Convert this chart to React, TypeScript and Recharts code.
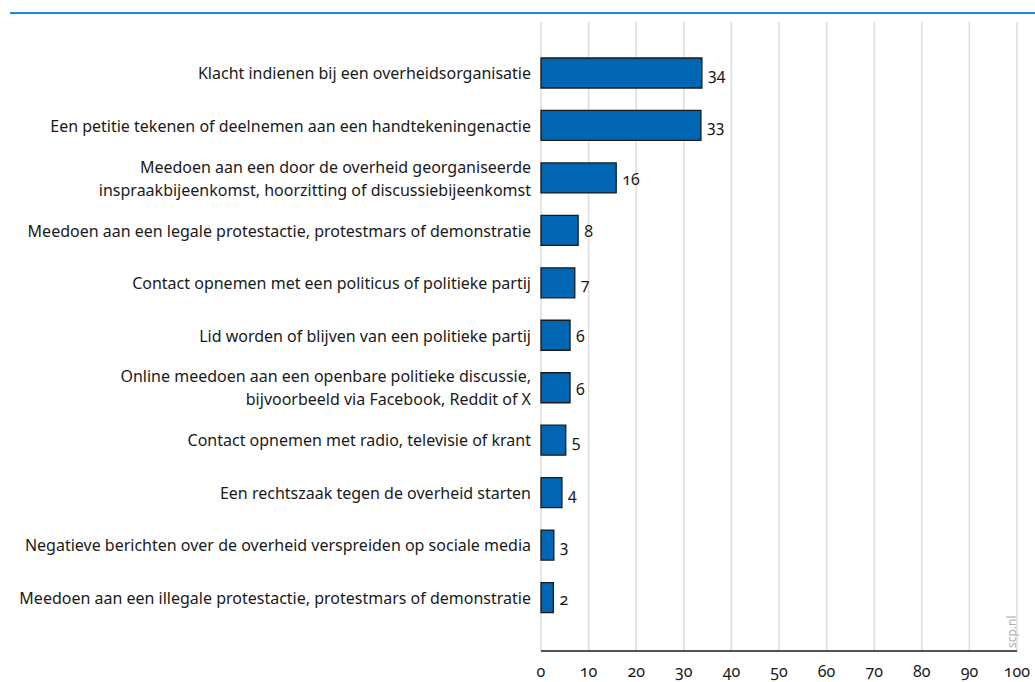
import React from 'react';
import { BarChart, Bar, XAxis, YAxis, CartesianGrid, LabelList } from 'recharts';

const categories: string[] = [
  'Klacht indienen bij een overheidsorganisatie',
  'Een petitie tekenen of deelnemen aan een handtekeningenactie',
  'Meedoen aan een door de overheid georganiseerde\ninspraakbijeenkomst, hoorzitting of discussiebijeenkomst',
  'Meedoen aan een legale protestactie, protestmars of demonstratie',
  'Contact opnemen met een politicus of politieke partij',
  'Lid worden of blijven van een politieke partij',
  'Online meedoen aan een openbare politieke discussie,\nbijvoorbeeld via Facebook, Reddit of X',
  'Contact opnemen met radio, televisie of krant',
  'Een rechtszaak tegen de overheid starten',
  'Negatieve berichten over de overheid verspreiden op sociale media',
  'Meedoen aan een illegale protestactie, protestmars of demonstratie',
];

const values: number[] = [33.8, 33.6, 15.8, 7.8, 7.1, 6.1, 6.1, 5.2, 4.4, 2.7, 2.6];
const valueLabels: string[] = ['34', '33', '16', '8', '7', '6', '6', '5', '4', '3', '2'];
const xTicks: number[] = [0, 10, 20, 30, 40, 50, 60, 70, 80, 90, 100];

const data = categories.map((name, i) => ({ name, value: values[i], label: valueLabels[i] }));

const FONT = '"Noto Sans", "Open Sans", sans-serif';
const TEXT = '#1a1a1a';

const CategoryTick = (props: any) => {
  const { x, y, payload } = props;
  const lines: string[] = String(payload.value).split('\n');
  const lh = 23;
  const tx = x + 7;
  const startY = y - ((lines.length - 1) * lh) / 2;
  return (
    <text
      x={tx}
      y={startY}
      textAnchor="end"
      dominantBaseline="central"
      fill={TEXT}
      style={{ fontFamily: FONT, fontSize: 16 }}
    >
      {lines.map((l, i) => (
        <tspan key={i} x={tx} y={startY + i * lh} dominantBaseline="central">
          {l}
        </tspan>
      ))}
    </text>
  );
};

const NumTick = (props: any) => {
  const { x, y, payload } = props;
  return (
    <text
      x={x}
      y={y - 2}
      textAnchor="middle"
      dominantBaseline="central"
      fill={TEXT}
      style={{ fontFamily: FONT, fontSize: 16, fontVariantNumeric: 'oldstyle-nums' }}
    >
      {payload.value}
    </text>
  );
};

const ValueLabel = (props: any) => {
  const { x, y, width, height, index } = props;
  return (
    <text
      x={x + width + 6}
      y={y + height / 2 + 1}
      dominantBaseline="central"
      fill={TEXT}
      style={{ fontFamily: FONT, fontSize: 16, fontVariantNumeric: 'oldstyle-nums' }}
    >
      {valueLabels[index]}
    </text>
  );
};

export default function App() {
  return (
    <div style={{ position: 'absolute', left: 0, top: 0, width: 1035, height: 682, background: '#fff' }}>
      <div
        style={{
          position: 'absolute',
          left: 10,
          top: 12,
          width: 1025,
          height: 2,
          background: '#1a87d8',
        }}
      />
      <BarChart
        width={1035}
        height={682}
        data={data}
        layout="vertical"
        margin={{ top: 22, right: 18, bottom: 0, left: 0 }}
        barCategoryGap={0}
      >
        <CartesianGrid horizontal={false} vertical stroke="#dcdcdc" strokeWidth={1.5} />
        <XAxis
          type="number"
          domain={[0, 100]}
          ticks={xTicks}
          interval={0}
          height={31}
          axisLine={{ stroke: '#1a1a1a', strokeWidth: 1.5 }}
          tickLine={false}
          tick={<NumTick />}
          tickMargin={16}
        />
        <YAxis
          type="category"
          dataKey="name"
          width={541}
          axisLine={false}
          tickLine={false}
          tickMargin={11}
          tick={<CategoryTick />}
          interval={0}
          padding={{ top: 25, bottom: 27 }}
        />
        <Bar
          dataKey="value"
          fill="#0066b3"
          stroke="#1a1a1a"
          strokeWidth={1.3}
          barSize={30}
          isAnimationActive={false}
        >
          <LabelList dataKey="label" content={<ValueLabel />} />
        </Bar>
        <text
          x={1011}
          y={648}
          transform="rotate(-90 1011 648)"
          fill="#b0b0b0"
          dominantBaseline="central"
          style={{ fontFamily: FONT, fontSize: 12 }}
        >
          scp.nl
        </text>
      </BarChart>
    </div>
  );
}
